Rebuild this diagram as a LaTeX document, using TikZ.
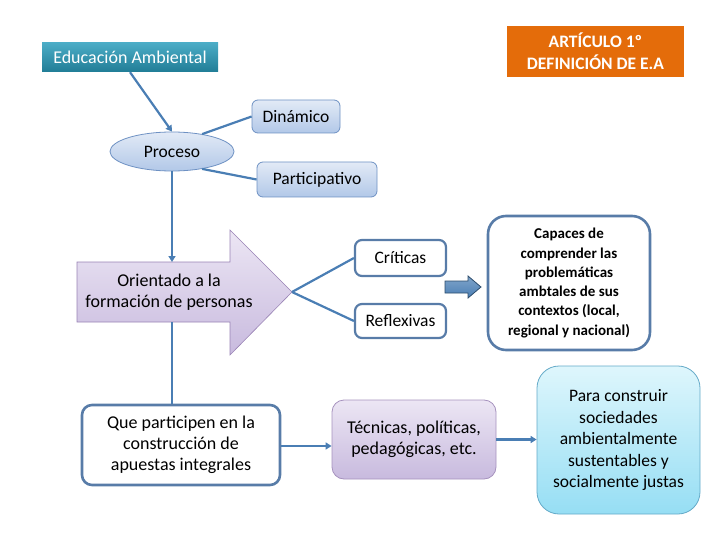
\documentclass[tikz,border=0pt]{standalone}
\usepackage{fontspec}
\setmainfont{Carlito}
\usetikzlibrary{shapes.geometric,arrows.meta}
\definecolor{lnk}{RGB}{74,126,180}
\definecolor{teal1}{RGB}{75,172,198}
\definecolor{teal2}{RGB}{33,125,150}
\definecolor{orng}{RGB}{228,108,10}
\definecolor{bl1}{RGB}{226,234,246}
\definecolor{bl2}{RGB}{178,200,232}
\definecolor{blb}{RGB}{110,145,195}
\definecolor{pu1}{RGB}{236,230,244}
\definecolor{pu2}{RGB}{200,186,222}
\definecolor{pub}{RGB}{128,100,162}
\definecolor{cy1}{RGB}{222,246,252}
\definecolor{cy2}{RGB}{150,222,244}
\definecolor{cyb}{RGB}{100,170,200}
\definecolor{thk}{RGB}{88,124,168}
\tikzset{
  x=1pt,y=-1pt,
  conn/.style={draw=lnk,line width=2.2pt},
  arr/.style={conn,-{Triangle[length=6pt,width=7pt]}},
  lightbox/.style={draw=blb,line width=0.8pt,rounded corners=6pt,top color=bl1,bottom color=bl2,font=\fontsize{17.5}{20}\selectfont},
  thickbox/.style={draw=thk,line width=2.6pt,rounded corners=10pt,fill=white,align=center},
  purplebox/.style={draw=pub!70,line width=0.8pt,rounded corners=12pt,top color=pu1,bottom color=pu2,align=center},
}
\begin{document}
\begin{tikzpicture}
\useasboundingbox (0,0) rectangle (720,540);
% top boxes
\node[minimum width=176pt,minimum height=29pt,top color=teal1,bottom color=teal2,text=white,font=\fontsize{18}{20}\selectfont,inner sep=0pt] (edu) at (130,57.5) {Educación Ambiental};
\node[minimum width=177pt,minimum height=51pt,fill=orng,text=white,font=\fontsize{17.5}{22}\selectfont\bfseries,align=center,inner sep=0pt] (art) at (595.5,51.5) {ARTÍCULO 1º\\DEFINICIÓN DE E.A};
\node[lightbox,minimum width=88pt,minimum height=33pt,inner sep=0pt] (din) at (296,116.5) {Dinámico};
\node[lightbox,minimum width=120pt,minimum height=35pt,inner sep=0pt] (par) at (317,179.5) {Participativo};
\node[ellipse,draw=blb,line width=0.8pt,top color=bl1,bottom color=bl2,minimum width=124pt,minimum height=39pt,inner sep=0pt,font=\fontsize{17.5}{20}\selectfont] (pro) at (172,151.5) {Proceso};
\draw[arr] (edu.south) -- (pro.north);
\draw[conn] (pro.30) -- (din.west);
\draw[conn] (pro.-30) -- (par.west);
% big arrow
\coordinate (btop) at (172,262);
\coordinate (bbot) at (172,322);
\coordinate (tip) at (292,292);
\path[draw=pub!80,line width=0.6pt,top color=pu1,bottom color=pu2] (77,262) -- (230,262) -- (230,230) -- (tip) -- (230,355) -- (230,322) -- (77,322) -- cycle;
\node[align=center,font=\fontsize{18}{21}\selectfont,inner sep=0pt] (ori) at (169,292.5) {Orientado a la\\formación de personas};
\draw[arr] (pro.south) -- (btop);
% critical boxes
\node[thickbox,minimum width=91pt,minimum height=36pt,inner sep=0pt,rounded corners=7pt,line width=2.2pt,font=\fontsize{17.5}{20}\selectfont] (cri) at (400.5,258) {Críticas};
\node[thickbox,minimum width=91pt,minimum height=34pt,inner sep=0pt,rounded corners=7pt,line width=2.2pt,font=\fontsize{17.5}{20}\selectfont] (ref) at (400.5,321) {Reflexivas};
\draw[conn] (tip) -- (cri.west);
\draw[conn] (tip) -- (ref.west);
\node[thickbox,minimum width=162pt,minimum height=134pt,inner sep=0pt,rounded corners=18pt,font=\fontsize{15}{19.3}\selectfont\bfseries] (cap) at (569,283) {Capaces de\\comprender las\\problemáticas\\ambtales de sus\\contextos (local,\\regional y nacional)};
\path[draw=lnk!60!black,line width=0.8pt,top color=lnk!70,bottom color=lnk] (445,281) -- (468,281) -- (468,276) -- (481,287) -- (468,298) -- (468,293) -- (445,293) -- cycle;
% bottom row
\node[thickbox,minimum width=198pt,minimum height=80pt,inner sep=0pt,font=\fontsize{18}{21}\selectfont] (que) at (181,445) {Que participen en la\\construcción de\\apuestas integrales};
\draw[conn] (bbot) -- (que.north -| bbot);
\node[purplebox,minimum width=164pt,minimum height=79pt,inner sep=0pt,font=\fontsize{18}{21}\selectfont] (tec) at (414,439.5) {Técnicas, políticas,\\pedagógicas, etc.};
\node[draw=cyb,line width=0.8pt,rounded corners=22pt,top color=cy1,bottom color=cy2,align=center,minimum width=163pt,minimum height=148pt,inner sep=0pt,font=\fontsize{17.5}{21.5}\selectfont] (pc) at (618.5,440) {Para construir\\sociedades\\ambientalmente\\sustentables y\\socialmente justas};
\coordinate (qa) at ([yshift=-1pt]que.east);
\draw[arr] (qa) -- (qa -| tec.west);
\draw[arr] (tec.east) -- (tec.east -| pc.west);
\end{tikzpicture}
\end{document}
